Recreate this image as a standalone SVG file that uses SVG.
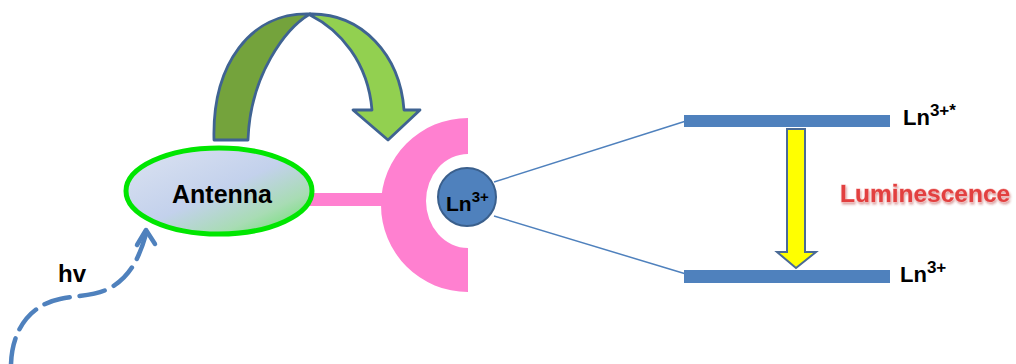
<svg xmlns="http://www.w3.org/2000/svg" width="1016" height="364" viewBox="0 0 1016 364">
  <defs>
    <linearGradient id="antennaFill" x1="0" y1="0" x2="1" y2="1">
      <stop offset="0" stop-color="#dce3f1"/>
      <stop offset="0.5" stop-color="#c3d1ec"/>
      <stop offset="0.75" stop-color="#a8dcb4"/>
      <stop offset="1" stop-color="#5fe25f"/>
    </linearGradient>
    <filter id="glowShadow" x="-5%" y="-30%" width="110%" height="160%">
      <feGaussianBlur in="SourceAlpha" stdDeviation="1.2" result="b"/>
      <feOffset in="b" dx="1" dy="1.5" result="o"/>
      <feFlood flood-color="#b03030" flood-opacity="0.45"/>
      <feComposite in2="o" operator="in" result="s"/>
      <feMerge><feMergeNode in="s"/><feMergeNode in="SourceGraphic"/></feMerge>
    </filter>
  </defs>
  <style>
    .lbl { font-family: "Liberation Sans", Arial, sans-serif; font-weight: bold; fill: #000; }
    .level { fill: #4f81bd; }
    .link { stroke: #4f81bd; stroke-width: 1.5; fill: none; }
    .arrowOutline { stroke: #3f6392; stroke-width: 2.8; stroke-linejoin: round; }
  </style>

  <!-- photon path -->
  <g id="connectors">
    <path d="M11,364 C12,330 30,305 60,299 C80,295 95,296 110,288 C128,278 138,262 146,234" fill="none" stroke="#4f81bd" stroke-width="4.5" stroke-dasharray="26,10" stroke-linecap="round"/>
    <polyline points="137,245 146,230 155,244" fill="none" stroke="#4f81bd" stroke-width="4.5" stroke-linecap="round" stroke-linejoin="round"/>
    <line class="link" x1="494" y1="182" x2="686" y2="121"/>
    <line class="link" x1="494" y1="216" x2="686" y2="274"/>
    <!-- energy transfer arrow: back face and front face -->
    <path class="arrowOutline" d="M214,140 C212,65 250,12 310,14 C286,28 250,75 248,140 Z" fill="#74a33c"/>
    <path class="arrowOutline" d="M310,14 C362,13 400,55 404,110 L420,110 L388,140 L353,110 L372,110 C368,62 340,30 310,15 Z" fill="#92d050"/>
    <!-- luminescence arrow -->
    <path d="M787,129 L805,129 L805,252 L816,252 L796,268 L777,252 L787,252 Z" fill="#ffff00" stroke="#4a6a96" stroke-width="2" stroke-linejoin="miter"/>
  </g>

  <g id="linker">
    <rect x="310" y="193" width="78" height="13" fill="#ff80d0"/>
  </g>

  <g id="antenna">
    <ellipse cx="219" cy="191" rx="93" ry="43" fill="url(#antennaFill)" stroke="#00e600" stroke-width="5"/>
    <text class="lbl" x="222" y="203" font-size="25" text-anchor="middle">Antenna</text>
  </g>

  <g id="ligand">
    <path d="M468,118 A87,87 0 0 0 468,292 L468,248 A42,47 0 0 1 468,154 Z" fill="#ff80d0"/>
  </g>

  <g id="ion">
    <circle cx="467" cy="197" r="29" fill="#4f81bd" stroke="#3a5f8c" stroke-width="2"/>
    <text class="lbl" x="446" y="211" font-size="21">Ln<tspan dy="-9" font-size="15">3+</tspan></text>
  </g>

  <g id="excited-level">
    <rect class="level" x="684" y="115" width="206" height="12"/>
    <text class="lbl" x="903" y="125" font-size="22">Ln<tspan dy="-9" font-size="17">3+*</tspan></text>
  </g>

  <g id="ground-level">
    <rect class="level" x="684" y="270" width="206" height="13"/>
    <text class="lbl" x="900" y="282" font-size="22">Ln<tspan dy="-9" font-size="17">3+</tspan></text>
  </g>

  <g id="luminescence-label">
    <text x="840" y="202" font-family="Liberation Sans, Arial, sans-serif" font-weight="bold" font-size="24.5" fill="#e2403f" stroke="#f6b4b4" stroke-width="0.8" paint-order="stroke" filter="url(#glowShadow)">Luminescence</text>
  </g>

  <g id="photon-label">
    <text class="lbl" x="58" y="282" font-size="24">hv</text>
  </g>
</svg>
